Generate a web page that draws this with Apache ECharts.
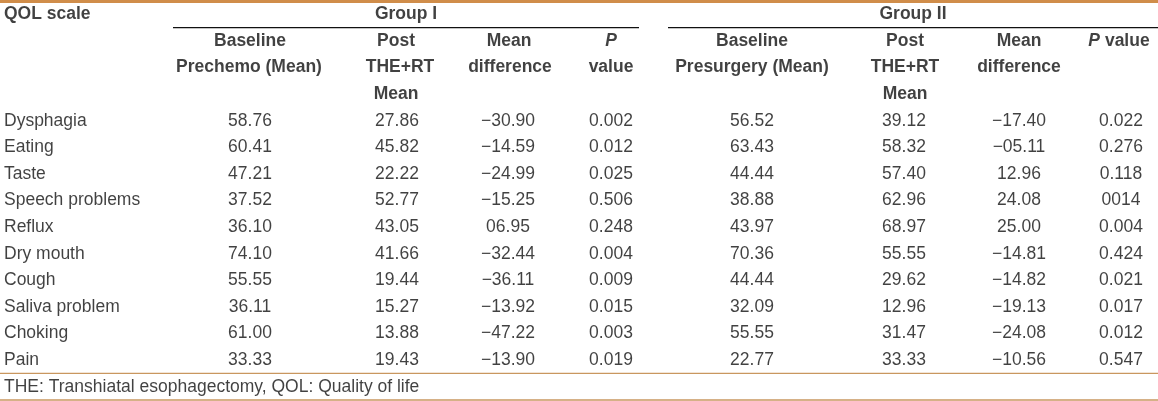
<!DOCTYPE html>
<html>
<head>
<meta charset="utf-8">
<script src="https://cdn.jsdelivr.net/npm/echarts@6/dist/echarts.min.js"></script>
<style>
html,body{margin:0;padding:0;background:#fff;}
#chart{width:1158px;height:401px;}
</style>
</head>
<body>
<div id="chart"></div>
<script>
// ---------- data ----------
const qolScale = ['Dysphagia','Eating','Taste','Speech problems','Reflux','Dry mouth','Cough','Saliva problem','Choking','Pain'];
const g1Baseline = ['58.76','60.41','47.21','37.52','36.10','74.10','55.55','36.11','61.00','33.33'];
const g1Post     = ['27.86','45.82','22.22','52.77','43.05','41.66','19.44','15.27','13.88','19.43'];
const g1Diff     = ['\u221230.90','\u221214.59','\u221224.99','\u221215.25','06.95','\u221232.44','\u221236.11','\u221213.92','\u221247.22','\u221213.90'];
const g1P        = ['0.002','0.012','0.025','0.506','0.248','0.004','0.009','0.015','0.003','0.019'];
const g2Baseline = ['56.52','63.43','44.44','38.88','43.97','70.36','44.44','32.09','55.55','22.77'];
const g2Post     = ['39.12','58.32','57.40','62.96','68.97','55.55','29.62','12.96','31.47','33.33'];
const g2Diff     = ['\u221217.40','\u221205.11','12.96','24.08','25.00','\u221214.81','\u221214.82','\u221219.13','\u221224.08','\u221210.56'];
const g2P        = ['0.022','0.276','0.118','0014','0.004','0.424','0.021','0.017','0.012','0.547'];
const groupLabels = ['Group I','Group II'];
const footnote = 'THE: Transhiatal esophagectomy, QOL: Quality of life';

// ---------- layout (column anchor positions on the x scale) ----------
const X = {left:4, g1b:250, g1p:397, g1d:508, g1v:611, g2b:752, g2p:904, g2d:1019, g2v:1121, grp1:406, grp2:913};
const HEADER_ROWS = 4;
const rowCats = ['h0','h1','h2','h3'].concat(qolScale).concat(['note']);

const TXT = '#111111';
const FONT = 'Liberation Sans, Arial, sans-serif';
const FS = 17.5;

// header cells: [x, row, text, align]
const headerCells = [
  [X.left, 0, 'QOL scale', 'left'],
  [X.grp1, 0, groupLabels[0], 'center'],
  [X.grp2, 0, groupLabels[1], 'center'],
  [X.g1b, 1, 'Baseline', 'center'],
  [X.g1p - 1, 1, 'Post', 'center'],
  [X.g1d + 1, 1, 'Mean', 'center'],
  [X.g1v, 1, '{i|P}', 'center'],
  [X.g2b, 1, 'Baseline', 'center'],
  [X.g2p + 1, 1, 'Post', 'center'],
  [X.g2d, 1, 'Mean', 'center'],
  [X.g2v - 2, 1, '{i|P} value', 'center'],
  [X.g1b - 1, 2, 'Prechemo (Mean)', 'center'],
  [X.g1p + 3, 2, 'THE+RT', 'center'],
  [X.g1d + 2, 2, 'difference', 'center'],
  [X.g1v, 2, 'value', 'center'],
  [X.g2b, 2, 'Presurgery (Mean)', 'center'],
  [X.g2p + 1, 2, 'THE+RT', 'center'],
  [X.g2d, 2, 'difference', 'center'],
  [X.g1p - 1, 3, 'Mean', 'center'],
  [X.g2p + 1, 3, 'Mean', 'center']
];

// rule lines: [x0, x1, row, side(-1 top / +1 bottom), style]
const rules = [
  [0, 1158, 0, -1, 0],
  [173, 639, 0, 1, 1],
  [668, 1158, 0, 1, 1],
  [0, 1158, 13, 1, 2],
  [0, 1158, 14, 1, 2]
];
const ruleStyles = [
  {stroke:'#D08D4A', lineWidth:4},
  {stroke:'#111111', lineWidth:1.4},
  {stroke:'#C9975F', lineWidth:1.3}
];

function textSeries(name, points, opts) {
  return {
    type:'scatter', name, symbolSize:1, silent:true,
    itemStyle:{color:'rgba(0,0,0,0)'},
    data: points.map(p => ({value:[p[0], p[1]], txt:p[2], al:p[3]})),
    label:{
      show:true, position:'inside', color:TXT, fontFamily:FONT, fontSize:FS,
      fontWeight: opts.bold ? 'bold' : 'normal',
      verticalAlign:'middle',
      align: opts.align || 'center',
      formatter: prm => prm.data.txt,
      rich: {i:{fontStyle:'italic', fontWeight:'bold', fontFamily:FONT, fontSize:FS, color:TXT}}
    },
    emphasis:{disabled:true},
    z: 5
  };
}

function colSeries(name, x, arr) {
  return textSeries(name, arr.map((v,i) => [x, HEADER_ROWS + i, v]), {});
}

const series = [
  textSeries('headersLeft', headerCells.filter(c=>c[3]==='left'), {bold:true, align:'left'}),
  textSeries('headersCenter', headerCells.filter(c=>c[3]==='center'), {bold:true, align:'center'}),
  textSeries('rowNames', qolScale.map((v,i)=>[X.left, HEADER_ROWS+i, v]), {align:'left'}),
  colSeries('g1Baseline', X.g1b, g1Baseline),
  colSeries('g1Post', X.g1p, g1Post),
  colSeries('g1Diff', X.g1d, g1Diff),
  colSeries('g1P', X.g1v, g1P),
  colSeries('g2Baseline', X.g2b, g2Baseline),
  colSeries('g2Post', X.g2p, g2Post),
  colSeries('g2Diff', X.g2d, g2Diff),
  colSeries('g2P', X.g2v, g2P),
  textSeries('note', [[X.left, rowCats.length-1, footnote]], {align:'left'}),
  {
    type:'custom', name:'rules', silent:true, clip:false,
    data: rules,
    renderItem(params, api) {
      const x0 = api.value(0), x1 = api.value(1), row = api.value(2), side = api.value(3), st = api.value(4);
      const a = api.coord([x0, row]);
      const b = api.coord([x1, row]);
      const h = api.size([0, 1])[1];
      const y = a[1] + side * h / 2;
      return {type:'line', shape:{x1:a[0], y1:y, x2:b[0], y2:y}, style:Object.assign({}, ruleStyles[st])};
    },
    z: 3
  }
];

const chart = echarts.init(document.getElementById('chart'), null, {renderer:'canvas'});
chart.setOption({
  animation:false,
  backgroundColor:'#ffffff',
  grid:{left:0, right:0, top:1, bottom:1, containLabel:false},
  xAxis:{type:'value', min:0, max:1158, show:false},
  yAxis:{type:'category', data:rowCats, inverse:true, show:false, boundaryGap:true},
  tooltip:{show:false},
  series
});
</script>
</body>
</html>
